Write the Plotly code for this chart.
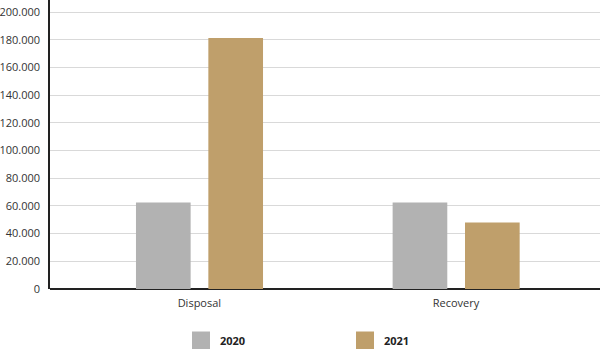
import plotly.graph_objects as go

categories = ["Disposal", "Recovery"]
series_names = ["2020", "2021"]
values_2020 = [62500, 62500]
values_2021 = [181200, 48000]
colors = ["#b2b2b2", "#bf9f6b"]
y_ticks = [0, 20000, 40000, 60000, 80000, 100000, 120000, 140000, 160000, 180000, 200000]

font = dict(family="Open Sans", size=11, color="#333333")

fig = go.Figure()
fig.add_trace(go.Bar(x=categories, y=values_2020, name=series_names[0],
                     marker=dict(color=colors[0], line=dict(width=0)),
                     width=0.213, offset=-0.247))
fig.add_trace(go.Bar(x=categories, y=values_2021, name=series_names[1],
                     marker=dict(color=colors[1], line=dict(width=0)),
                     width=0.213, offset=0.035))

# custom legend
leg_x = [192, 356]
for i, name in enumerate(series_names):
    x0 = leg_x[i]
    fig.add_shape(type="rect", xref="paper", yref="paper",
                  x0=(x0 - 50) / 550, x1=(x0 + 18 - 50) / 550,
                  y0=-(349 - 289) / 289, y1=-(331.5 - 289) / 289,
                  fillcolor=colors[i], line=dict(width=0))
    fig.add_annotation(xref="paper", yref="paper",
                       x=(x0 + 26 - 50) / 550, y=-(340.5 - 289) / 289,
                       text="<b>%s</b>" % name, showarrow=False,
                       xanchor="left", yanchor="middle",
                       font=dict(family="Open Sans", size=11, color="#222222"))

fig.update_layout(
    width=600, height=351,
    margin=dict(l=50, r=0, t=0, b=62),
    paper_bgcolor="white", plot_bgcolor="white",
    separators=",.",
    showlegend=False,
    font=font,
    barmode="group",
)
fig.update_xaxes(range=[-0.582, 1.561], showgrid=False, showline=False,
                 ticks="", ticklabelstandoff=6, tickfont=font)
fig.update_yaxes(range=[0, 208700], tickvals=y_ticks, tickformat=",d",
                 showgrid=True, gridcolor="#d9d9d9", gridwidth=1,
                 zeroline=True, zerolinecolor="#222222", zerolinewidth=1.5,
                 showline=True, linecolor="#222222", linewidth=1.5,
                 ticks="", ticklabelstandoff=6, tickfont=font)

fig.write_html("out.html")
